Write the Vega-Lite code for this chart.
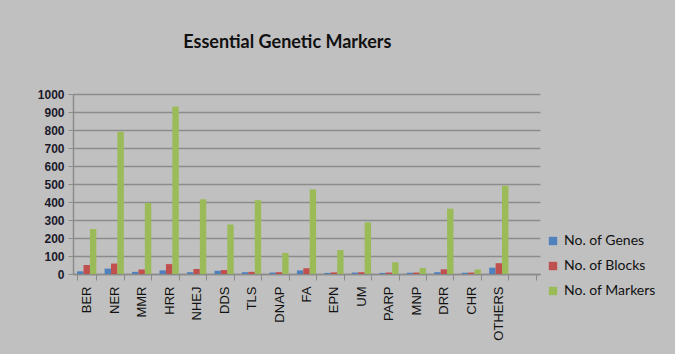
{
  "$schema": "https://vega.github.io/schema/vega-lite/v6.json",
  "autosize": {"type": "none"},
  "width": 467,
  "height": 180,
  "padding": {"left": 73, "top": 94, "right": 135, "bottom": 80},
  "background": "#c0c0c0",
  "title": {
    "text": "Essential Genetic Markers",
    "anchor": "start",
    "dx": 146,
    "offset": 36,
    "font": "Lato",
    "fontSize": 18,
    "fontWeight": "bold",
    "color": "#111111"
  },
  "data": {
    "values": [
      {"cat": "BER", "series": "No. of Genes", "value": 15},
      {"cat": "BER", "series": "No. of Blocks", "value": 50},
      {"cat": "BER", "series": "No. of Markers", "value": 250},
      {"cat": "NER", "series": "No. of Genes", "value": 30},
      {"cat": "NER", "series": "No. of Blocks", "value": 58},
      {"cat": "NER", "series": "No. of Markers", "value": 790},
      {"cat": "MMR", "series": "No. of Genes", "value": 12},
      {"cat": "MMR", "series": "No. of Blocks", "value": 25},
      {"cat": "MMR", "series": "No. of Markers", "value": 395},
      {"cat": "HRR", "series": "No. of Genes", "value": 20},
      {"cat": "HRR", "series": "No. of Blocks", "value": 55},
      {"cat": "HRR", "series": "No. of Markers", "value": 930},
      {"cat": "NHEJ", "series": "No. of Genes", "value": 10},
      {"cat": "NHEJ", "series": "No. of Blocks", "value": 28},
      {"cat": "NHEJ", "series": "No. of Markers", "value": 415},
      {"cat": "DDS", "series": "No. of Genes", "value": 18},
      {"cat": "DDS", "series": "No. of Blocks", "value": 22},
      {"cat": "DDS", "series": "No. of Markers", "value": 275},
      {"cat": "TLS", "series": "No. of Genes", "value": 10},
      {"cat": "TLS", "series": "No. of Blocks", "value": 12},
      {"cat": "TLS", "series": "No. of Markers", "value": 410},
      {"cat": "DNAP", "series": "No. of Genes", "value": 8},
      {"cat": "DNAP", "series": "No. of Blocks", "value": 10},
      {"cat": "DNAP", "series": "No. of Markers", "value": 117},
      {"cat": "FA", "series": "No. of Genes", "value": 20},
      {"cat": "FA", "series": "No. of Blocks", "value": 32},
      {"cat": "FA", "series": "No. of Markers", "value": 470},
      {"cat": "EPN", "series": "No. of Genes", "value": 6},
      {"cat": "EPN", "series": "No. of Blocks", "value": 9},
      {"cat": "EPN", "series": "No. of Markers", "value": 133},
      {"cat": "UM", "series": "No. of Genes", "value": 8},
      {"cat": "UM", "series": "No. of Blocks", "value": 10},
      {"cat": "UM", "series": "No. of Markers", "value": 287},
      {"cat": "PARP", "series": "No. of Genes", "value": 6},
      {"cat": "PARP", "series": "No. of Blocks", "value": 8},
      {"cat": "PARP", "series": "No. of Markers", "value": 65},
      {"cat": "MNP", "series": "No. of Genes", "value": 7},
      {"cat": "MNP", "series": "No. of Blocks", "value": 8},
      {"cat": "MNP", "series": "No. of Markers", "value": 33},
      {"cat": "DRR", "series": "No. of Genes", "value": 10},
      {"cat": "DRR", "series": "No. of Blocks", "value": 26},
      {"cat": "DRR", "series": "No. of Markers", "value": 363},
      {"cat": "CHR", "series": "No. of Genes", "value": 7},
      {"cat": "CHR", "series": "No. of Blocks", "value": 8},
      {"cat": "CHR", "series": "No. of Markers", "value": 25},
      {"cat": "OTHERS", "series": "No. of Genes", "value": 35},
      {"cat": "OTHERS", "series": "No. of Blocks", "value": 60},
      {"cat": "OTHERS", "series": "No. of Markers", "value": 490}
    ]
  },
  "mark": {"type": "bar"},
  "encoding": {
    "x": {
      "field": "cat",
      "type": "nominal",
      "scale": {
        "domain": ["BER", "NER", "MMR", "HRR", "NHEJ", "DDS", "TLS", "DNAP", "FA", "EPN", "UM", "PARP", "MNP", "DRR", "CHR", "OTHERS", " "],
        "paddingInner": 0.3,
        "paddingOuter": 0.15
      },
      "axis": {
        "title": null,
        "labelAngle": -90,
        "labelAlign": "right",
        "labelBaseline": "middle",
        "labelFont": "Liberation Sans",
        "labelFontSize": 13,
        "labelColor": "#111111",
        "labelPadding": 6,
        "tickBand": "extent",
        "tickColor": "#8a8a8a",
        "tickSize": 6,
        "domainColor": "#8a8a8a",
        "domainWidth": 1.5
      }
    },
    "xOffset": {
      "field": "series",
      "type": "nominal",
      "sort": ["No. of Genes", "No. of Blocks", "No. of Markers"],
      "scale": {"paddingInner": 0}
    },
    "y": {
      "field": "value",
      "type": "quantitative",
      "scale": {"domain": [0, 1000], "nice": false},
      "axis": {
        "title": null,
        "values": [0, 100, 200, 300, 400, 500, 600, 700, 800, 900, 1000],
        "format": "d",
        "labelFont": "Liberation Sans",
        "labelFontSize": 12,
        "labelFontWeight": "bold",
        "labelColor": "#1a1a2a",
        "labelPadding": 4,
        "gridColor": "#8c8c8c",
        "gridWidth": 1.5,
        "tickColor": "#8c8c8c",
        "tickSize": 5,
        "domainColor": "#8c8c8c",
        "domainWidth": 1.5
      }
    },
    "color": {
      "field": "series",
      "type": "nominal",
      "sort": ["No. of Genes", "No. of Blocks", "No. of Markers"],
      "scale": {
        "domain": ["No. of Genes", "No. of Blocks", "No. of Markers"],
        "range": ["#4f81bd", "#c0504d", "#9bbb59"]
      },
      "legend": {
        "title": null,
        "orient": "none",
        "legendX": 473,
        "legendY": 140,
        "symbolType": "square",
        "symbolSize": 70,
        "symbolStrokeWidth": 0,
        "labelFont": "Lato",
        "labelFontSize": 14,
        "labelColor": "#111111",
        "rowPadding": 11,
        "labelLimit": 200
      }
    }
  },
  "config": {
    "view": {"stroke": null}
  }
}
